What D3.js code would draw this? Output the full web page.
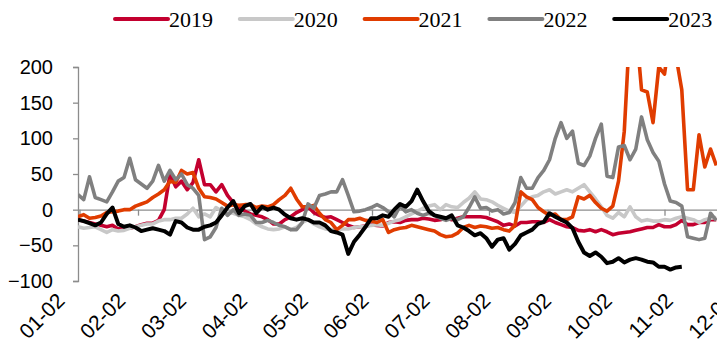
<!DOCTYPE html>
<html><head><meta charset="utf-8">
<script src="https://cdn.jsdelivr.net/npm/d3@7"></script>
<style>
html,body{margin:0;padding:0;background:#fff;}
svg{display:block;}
</style></head>
<body>
<svg id="chart" width="717" height="349"></svg>
<script>
const categories = ["01-02","02-02","03-02","04-02","05-02","06-02","07-02","08-02","09-02","10-02","11-02","12-02"];
const yTicks = [-100, -50, 0, 50, 100, 150, 200];
const years = ["2019", "2020", "2021", "2022", "2023"];
const colors = ["#C3002F", "#C8C8C8", "#E03C00", "#808080", "#000000"];
// sampling: point i sits at month offset start + i*step (~2 trading days per point)
const start = -0.026, step = 0.0983;

const s2019 = [-14,-16,-18,-20,-22,-24,-22,-27,-25,-26,-24,-21,-19,-19,-15,0,50,32,40,28,38,70,35,35,25,35,20,10,3,-2,-6,-8,-10,-14,-20,-20,-14,-10,-4,0,4,-4,-8,-11,-10,-14,-18,-22,-25,-24,-23,-21,-22,-23,-18,-17,-18,-15,-14,-14,-12,-13,-15,-14,-12,-14,-12,-10,-10,-10,-10,-11,-14,-17,-22,-20,-23,-18,-18,-17,-17,-18,-14,-18,-21,-24,-25,-29,-30,-28,-31,-28,-31,-35,-33,-32,-31,-29,-27,-25,-25,-21,-24,-24,-21,-15,-21,-21,-18,-18,-14,-14];
const s2020 = [-24,-26,-25,-24,-28,-32,-28,-30,-29,-26,-24,-22,-20,-20,-16,-14,-14,-12,-12,-6,2,-10,-6,-10,3,-2,-4,-5,-8,-10,-14,-20,-24,-27,-28,-27,-24,-28,-25,-18,-14,-20,-24,-27,-28,-28,-27,-27,-25,-24,-24,-22,-21,-22,-19,-16,-14,-10,-6,-2,2,5,7,0,7,4,3,10,16,25,15,14,11,6,2,-2,-4,5,14,18,20,25,28,22,25,28,25,30,35,25,15,4,-8,-12,-4,-10,4,-10,-16,-14,-16,-16,-14,-15,-12,-10,-12,-14,-18,-14,-12,-11];
const s2021 = [-10,-7,-12,-11,-9,-4,-3,-2,0,0,5,8,11,17,22,28,40,38,55,50,52,30,18,17,15,10,5,7,6,7,7,3,5,4,7,14,20,30,15,4,4,6,-5,-14,-18,-28,-22,-14,-14,-12,-15,-16,-18,-14,-32,-28,-26,-25,-22,-24,-26,-28,-30,-35,-38,-37,-33,-25,-22,-25,-23,-24,-26,-25,-28,-30,-22,25,18,14,3,-3,-8,-6,-14,-14,-10,18,15,20,10,2,-2,5,40,110,260,260,168,165,122,200,190,250,215,168,28,28,105,60,85,62];
const s2022 = [21,14,46,17,14,11,25,40,45,72,42,36,30,40,62,40,55,42,50,35,30,20,-42,-38,-25,2,-8,0,-8,-6,-8,-18,-18,-15,-18,-22,-24,-28,-28,-18,8,2,20,22,25,25,42,20,-3,-2,0,3,7,3,-3,-10,5,-3,0,-5,-8,-5,-8,-12,-15,-12,-14,-10,3,18,2,3,-2,0,-6,-4,10,45,30,30,45,55,70,100,122,100,110,65,62,75,100,120,47,45,88,90,70,85,130,98,80,68,36,12,10,5,-38,-40,-42,-40,-5,-15];
const s2023 = [-14,-16,-19,-22,-18,-6,3,-20,-24,-22,-25,-30,-28,-26,-28,-30,-35,-16,-18,-25,-28,-28,-24,-22,-18,-8,3,12,-5,5,8,-5,4,0,3,0,-7,-12,-14,-12,-14,-18,-18,-22,-30,-32,-35,-62,-45,-35,-24,-12,-12,-8,-10,0,8,4,12,28,12,-2,-8,-10,-12,-8,-22,-25,-30,-36,-33,-40,-52,-42,-40,-56,-48,-36,-32,-28,-20,-17,-5,-10,-14,-18,-26,-45,-60,-65,-60,-66,-75,-73,-68,-74,-70,-68,-70,-73,-74,-80,-80,-84,-81,-80];
const seriesValues = [s2019, s2020, s2021, s2022, s2023];

const svg = d3.select("#chart");
const plotLeft = 78, plotRight = 717, plotTop = 67, plotBottom = 281;

const x = d3.scaleLinear().domain([0, 11]).range([79.5, 723]);
const y = d3.scaleLinear().domain([-100, 200]).range([plotBottom, plotTop]);
// rotated category labels are laid out on their own, slightly wider, band
const xLabel = d3.scaleLinear().domain([0, 11]).range([66, 735]);

// clip
svg.append("defs").append("clipPath").attr("id", "clip")
  .append("rect").attr("x", plotLeft).attr("y", plotTop)
  .attr("width", plotRight - plotLeft + 10).attr("height", plotBottom - plotTop);

// y axis
const yAxis = svg.append("g").attr("transform", `translate(${plotLeft},0)`)
  .call(d3.axisLeft(y).tickValues(yTicks).tickSize(5).tickPadding(20).tickFormat(d3.format("d")));
yAxis.select(".domain").attr("stroke", "#8c8c8c").attr("stroke-width", 1.3);
yAxis.selectAll(".tick line").attr("stroke", "#8c8c8c").attr("stroke-width", 1.3);
yAxis.selectAll(".tick text").attr("font-family", "Liberation Sans, Arial, sans-serif")
  .attr("font-size", 20).attr("fill", "#000");

// x axis at zero
const xAxis = svg.append("g").attr("transform", `translate(0,${y(0)})`)
  .call(d3.axisBottom(x).tickValues(d3.range(categories.length)).tickSize(6).tickFormat(() => ""));
xAxis.select(".domain").attr("d", `M${plotLeft},0.5H${plotRight}`).attr("stroke", "#8c8c8c").attr("stroke-width", 1.3);
xAxis.selectAll(".tick line").attr("stroke", "#8c8c8c").attr("stroke-width", 1.3);

// x labels
svg.append("g").selectAll("text").data(categories).join("text")
  .attr("transform", (d, i) => `translate(${xLabel(i)},${plotBottom + 21}) rotate(-45)`)
  .attr("text-anchor", "end")
  .attr("font-family", "Liberation Sans, Arial, sans-serif")
  .attr("font-size", 21).attr("fill", "#000")
  .text(d => d);

// lines
const line = d3.line().x((d, i) => x(start + i * step)).y(d => y(d));
const lines = svg.append("g").attr("clip-path", "url(#clip)");
seriesValues.forEach((vals, k) => {
  lines.append("path").datum(vals)
    .attr("fill", "none").attr("stroke", colors[k])
    .attr("stroke-width", k === 4 ? 4 : 3.6)
    .attr("stroke-linejoin", "round").attr("stroke-linecap", "butt")
    .attr("d", line);
});

// legend
const legend = svg.append("g");
years.forEach((yr, k) => {
  const lx = 115 + k * 124.8;
  legend.append("line").attr("x1", lx).attr("x2", lx + 53).attr("y1", 19).attr("y2", 19)
    .attr("stroke", colors[k]).attr("stroke-width", 4).attr("stroke-linecap", "round");
  legend.append("text").attr("x", lx + 54).attr("y", 27)
    .attr("font-family", "Liberation Serif, Times New Roman, serif")
    .attr("font-size", 22).attr("fill", "#000").text(yr);
});
</script>
</body></html>
